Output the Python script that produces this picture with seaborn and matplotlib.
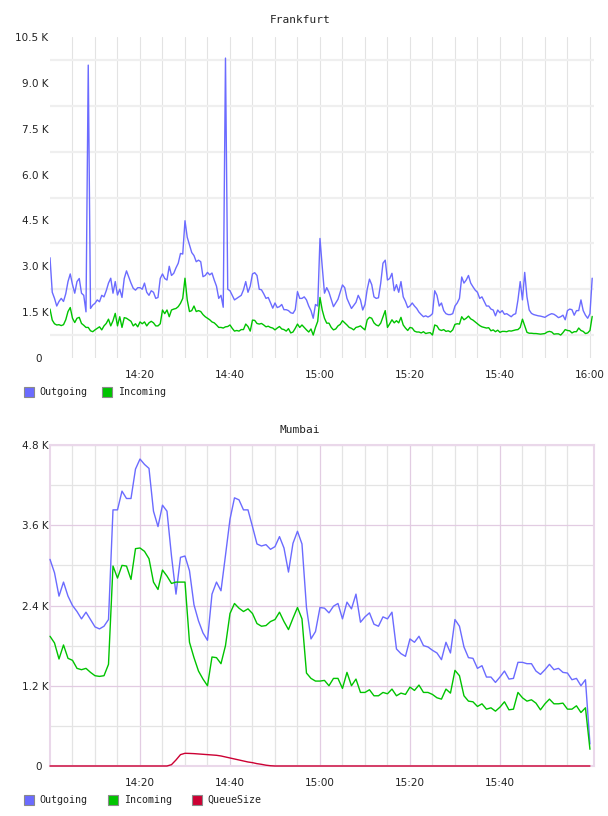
import numpy as np
import pandas as pd
import matplotlib
matplotlib.use("Agg")
import matplotlib.pyplot as plt
from matplotlib.patches import Rectangle
import seaborn as sns

# ---------------- data ----------------
start_label = "14:00"
top_title = "Frankfurt"
bottom_title = "Mumbai"
top_series = ["Outgoing", "Incoming"]
bottom_series = ["Outgoing", "Incoming", "QueueSize"]
colors = {"Outgoing": "#6b6bff", "Incoming": "#00c400", "QueueSize": "#cc0033"}

top_xlabels = ["14:20", "14:40", "15:00", "15:20", "15:40", "16:00"]
bottom_xlabels = ["14:20", "14:40", "15:00", "15:20", "15:40"]
top_yticks = [0, 1.5, 3.0, 4.5, 6.0, 7.5, 9.0, 10.5]
bottom_yticks = [0, 1.2, 2.4, 3.6, 4.8]

# Frankfurt, samples every 30 s from 14:00 (values in K)
fra_out = [
    3.28, 2.15, 1.95, 1.70, 1.85, 1.95, 1.85, 2.10, 2.50, 2.75, 2.40, 2.12, 2.50, 2.60, 2.12, 2.05, 1.51, 9.58, 1.62, 1.73,
    1.79, 1.90, 1.84, 2.05, 2.00, 2.20, 2.45, 2.61, 2.12, 2.50, 2.06, 2.25, 1.98, 2.60, 2.85, 2.65, 2.45, 2.28, 2.22, 2.30,
    2.30, 2.25, 2.45, 2.15, 2.05, 2.20, 2.15, 1.95, 1.98, 2.60, 2.75, 2.60, 2.55, 3.00, 2.70, 2.77, 2.95, 3.10, 3.42, 3.40,
    4.49, 3.95, 3.70, 3.45, 3.35, 3.15, 3.20, 3.15, 2.66, 2.70, 2.80, 2.72, 2.78, 2.55, 2.35, 1.95, 2.05, 1.66, 9.81, 2.25,
    2.20, 2.05, 1.90, 1.95, 2.00, 2.05, 2.23, 2.50, 2.15, 2.35, 2.75, 2.79, 2.70, 2.25, 2.23, 2.10, 1.95, 1.98, 1.81, 1.63,
    1.80, 1.65, 1.68, 1.75, 1.58, 1.58, 1.55, 1.48, 1.46, 1.58, 2.17, 1.95, 1.95, 2.00, 1.90, 1.70, 1.55, 1.30, 1.75, 1.70,
    3.91, 2.99, 2.12, 2.30, 2.15, 1.92, 1.68, 1.80, 1.92, 2.15, 2.39, 2.30, 1.95, 1.78, 1.62, 1.72, 1.82, 2.05, 1.90, 1.57,
    1.75, 2.25, 2.58, 2.40, 2.00, 1.95, 1.97, 2.45, 3.10, 3.20, 2.55, 2.60, 2.77, 2.20, 2.40, 2.15, 2.50, 2.00, 1.85, 1.65,
    1.70, 1.80, 1.70, 1.62, 1.50, 1.42, 1.35, 1.38, 1.34, 1.38, 1.45, 2.20, 2.05, 1.70, 1.80, 1.55, 1.45, 1.42, 1.42, 1.45,
    1.70, 1.80, 1.95, 2.65, 2.45, 2.55, 2.70, 2.45, 2.33, 2.22, 2.15, 1.95, 2.00, 1.85, 1.70, 1.70, 1.60, 1.57, 1.38, 1.57,
    1.48, 1.55, 1.43, 1.45, 1.40, 1.35, 1.42, 1.45, 1.90, 2.50, 1.90, 2.80, 2.00, 1.57, 1.46, 1.42, 1.40, 1.38, 1.37, 1.35,
    1.33, 1.38, 1.42, 1.45, 1.43, 1.38, 1.32, 1.35, 1.40, 1.25, 1.55, 1.60, 1.58, 1.40, 1.55, 1.55, 1.90, 1.55, 1.40, 1.30,
    1.45, 2.61,
]
fra_in = [
    1.60, 1.24, 1.12, 1.08, 1.09, 1.06, 1.09, 1.25, 1.52, 1.65, 1.30, 1.16, 1.30, 1.33, 1.13, 1.07, 1.00, 1.00, 0.89, 0.86,
    0.92, 0.97, 1.02, 0.92, 1.05, 1.13, 1.27, 1.05, 1.22, 1.46, 1.05, 1.35, 1.00, 1.32, 1.30, 1.25, 1.20, 1.05, 1.12, 1.02,
    1.18, 1.12, 1.18, 1.05, 1.15, 1.20, 1.15, 1.05, 1.05, 1.12, 1.57, 1.45, 1.57, 1.35, 1.57, 1.60, 1.62, 1.68, 1.79, 1.95,
    2.61, 1.90, 1.52, 1.55, 1.70, 1.52, 1.55, 1.52, 1.42, 1.35, 1.30, 1.25, 1.18, 1.15, 1.08, 1.00, 1.00, 0.98, 1.02, 1.03,
    1.08, 0.97, 0.88, 0.90, 0.88, 0.93, 0.93, 1.11, 1.03, 0.88, 1.24, 1.23, 1.13, 1.11, 1.13, 1.08, 1.02, 1.04, 1.00, 0.98,
    0.92, 0.98, 1.03, 0.95, 0.93, 0.88, 0.96, 0.82, 0.85, 0.97, 1.11, 1.00, 1.08, 1.00, 0.92, 0.85, 0.95, 0.75, 1.00, 1.20,
    1.98, 1.57, 1.30, 1.14, 1.14, 1.00, 0.92, 0.95, 1.05, 1.10, 1.22, 1.15, 1.08, 1.00, 0.97, 0.92, 1.00, 1.02, 1.05, 0.98,
    0.92, 1.25, 1.33, 1.30, 1.15, 1.08, 1.05, 1.14, 1.35, 1.55, 1.00, 1.12, 1.25, 1.15, 1.22, 1.15, 1.33, 1.08, 0.98, 0.90,
    1.00, 0.98, 0.88, 0.85, 0.85, 0.82, 0.86, 0.80, 0.82, 0.83, 0.75, 1.08, 1.05, 0.93, 0.90, 0.93, 0.87, 0.89, 0.85, 0.92,
    1.10, 1.12, 1.11, 1.35, 1.25, 1.30, 1.37, 1.28, 1.24, 1.18, 1.12, 1.06, 1.02, 1.00, 0.98, 0.99, 0.89, 0.92, 0.86, 0.91,
    0.84, 0.87, 0.87, 0.86, 0.89, 0.88, 0.90, 0.92, 0.93, 1.00, 1.27, 1.05, 0.84, 0.81, 0.81, 0.80, 0.80, 0.79, 0.78, 0.79,
    0.80, 0.85, 0.87, 0.85, 0.78, 0.79, 0.79, 0.75, 0.83, 0.93, 0.90, 0.89, 0.82, 0.86, 0.86, 0.98, 0.90, 0.87, 0.80, 0.82,
    0.90, 1.36,
]

# Mumbai, samples every minute from 14:00 (values in K)
mum_out = [
    3.09, 2.89, 2.54, 2.75, 2.54, 2.40, 2.31, 2.20, 2.30, 2.19,
    2.08, 2.05, 2.09, 2.19, 3.83, 3.83, 4.11, 4.00, 4.00, 4.44,
    4.59, 4.51, 4.45, 3.81, 3.58, 3.90, 3.81, 3.14, 2.57, 3.12,
    3.14, 2.92, 2.41, 2.17, 1.99, 1.88, 2.57, 2.75, 2.62, 3.15,
    3.69, 4.01, 3.98, 3.83, 3.83, 3.58, 3.32, 3.29, 3.31, 3.24,
    3.28, 3.43, 3.26, 2.90, 3.33, 3.51, 3.32, 2.37, 1.90, 2.01,
    2.37, 2.36, 2.29, 2.39, 2.43, 2.20, 2.45, 2.35, 2.57, 2.15,
    2.23, 2.29, 2.12, 2.09, 2.23, 2.20, 2.30, 1.75, 1.68, 1.64,
    1.90, 1.85, 1.94, 1.80, 1.78, 1.73, 1.69, 1.59, 1.85, 1.69,
    2.19, 2.09, 1.78, 1.62, 1.61, 1.46, 1.50, 1.33, 1.33, 1.25,
    1.33, 1.42, 1.30, 1.31, 1.55, 1.55, 1.53, 1.53, 1.42, 1.37,
    1.44, 1.52, 1.44, 1.46, 1.40, 1.39, 1.29, 1.31, 1.20, 1.29,
    0.33,
]
mum_in = [
    1.94, 1.84, 1.60, 1.81, 1.61, 1.58, 1.46, 1.44, 1.46, 1.40,
    1.35, 1.34, 1.35, 1.52, 2.99, 2.81, 3.00, 2.99, 2.79, 3.25,
    3.26, 3.21, 3.10, 2.75, 2.64, 2.93, 2.84, 2.73, 2.75, 2.75,
    2.75, 1.85, 1.62, 1.42, 1.30, 1.20, 1.63, 1.62, 1.53, 1.80,
    2.28, 2.43, 2.36, 2.31, 2.35, 2.28, 2.13, 2.09, 2.10, 2.16,
    2.19, 2.30, 2.16, 2.04, 2.21, 2.37, 2.20, 1.39, 1.31, 1.27,
    1.27, 1.28, 1.20, 1.31, 1.31, 1.16, 1.40, 1.20, 1.30, 1.10,
    1.10, 1.14, 1.05, 1.05, 1.10, 1.08, 1.15, 1.05, 1.09, 1.07,
    1.18, 1.13, 1.21, 1.10, 1.10, 1.07, 1.02, 1.00, 1.15, 1.09,
    1.43, 1.35, 1.05, 0.97, 0.96, 0.89, 0.93, 0.85, 0.87, 0.82,
    0.88, 0.96, 0.84, 0.85, 1.10, 1.02, 0.97, 0.99, 0.94, 0.84,
    0.93, 1.00, 0.93, 0.93, 0.94, 0.85, 0.85, 0.90, 0.80, 0.87,
    0.25,
]
mum_queue = [
    0, 0, 0, 0, 0, 0, 0, 0, 0, 0,
    0, 0, 0, 0, 0, 0, 0, 0, 0, 0,
    0, 0, 0, 0, 0, 0, 0, 0.02, 0.09, 0.17,
    0.19, 0.188, 0.185, 0.18, 0.175, 0.17, 0.165, 0.16, 0.15, 0.135,
    0.12, 0.105, 0.09, 0.075, 0.06, 0.05, 0.035, 0.025, 0.012, 0.004,
] + [0] * 71

# ---------------- helpers ----------------
def to_min(lbl):
    h, m = lbl.split(":")
    h0, m0 = start_label.split(":")
    return (int(h) * 60 + int(m)) - (int(h0) * 60 + int(m0))

def ylab(v):
    return "0  " if v == 0 else f"{v:.1f} K"

t_top = np.arange(len(fra_out)) * 0.5
t_bot = np.arange(len(mum_out)) * 1.0

df_top = pd.DataFrame({
    "t": np.concatenate([t_top, t_top]),
    "v": fra_out + fra_in,
    "series": ["Outgoing"] * len(fra_out) + ["Incoming"] * len(fra_in),
})
df_bot = pd.DataFrame({
    "t": np.concatenate([t_bot, t_bot, t_bot]),
    "v": mum_out + mum_in + mum_queue,
    "series": ["Outgoing"] * len(mum_out) + ["Incoming"] * len(mum_in) + ["QueueSize"] * len(mum_queue),
})

# ---------------- figure ----------------
sns.set_style("white")
plt.rcParams["font.family"] = ["DejaVu Sans"]

W, H = 608, 816
fig = plt.figure(figsize=(W / 100, H / 100), dpi=100)

def px_axes(left, top, right, bottom):
    return fig.add_axes([left / W, 1 - bottom / H, (right - left) / W, (bottom - top) / H])

XMAX = 120.9
tick_fs = 7.5
mono = "DejaVu Sans Mono"

# ---- top chart ----
ax1 = px_axes(50, 37, 594, 358)
sns.lineplot(data=df_top, x="t", y="v", hue="series", hue_order=top_series,
             palette=colors, linewidth=1.0, legend=False, ax=ax1, estimator=None)
ax1.set_xlim(0, XMAX)
ax1.set_ylim(0, 10.5)
ax1.set_xticks([to_min(l) for l in top_xlabels])
ax1.set_xticklabels(top_xlabels)
ax1.set_xticks(np.arange(5, 121, 5), minor=True)
ax1.set_yticks(top_yticks)
ax1.set_yticklabels([ylab(v) for v in top_yticks])
ax1.set_yticks(np.arange(0.75, 10.5, 1.5), minor=True)
ax1.tick_params(which="both", length=0, labelsize=tick_fs, colors="#222222")
ax1.tick_params(axis="x", pad=9)
ax1.tick_params(axis="y", pad=1)
ax1.grid(False)
ax1.xaxis.grid(True, which="both", color="#e3e3e3", lw=0.8)
ax1.yaxis.grid(True, which="minor", color="#efefef", lw=1.6)
ax1.set_axisbelow(True)
for s in ax1.spines.values():
    s.set_visible(False)
ax1.set_xlabel("")
ax1.set_ylabel("")

# ---- bottom chart ----
ax2 = px_axes(50, 445, 594, 766)
sns.lineplot(data=df_bot, x="t", y="v", hue="series", hue_order=bottom_series,
             palette=colors, linewidth=1.0, legend=False, ax=ax2, estimator=None)
for ln in ax2.lines:
    ln.set_clip_on(False)
    ln.set_zorder(3)
ax2.set_xlim(0, XMAX)
ax2.set_ylim(0, 4.8)
ax2.set_xticks([to_min(l) for l in bottom_xlabels])
ax2.set_xticklabels(bottom_xlabels)
ax2.set_xticks(np.arange(5, 120, 5), minor=True)
ax2.set_yticks(bottom_yticks)
ax2.set_yticklabels([ylab(v) for v in bottom_yticks])
ax2.set_yticks(np.arange(0.6, 4.8, 1.2), minor=True)
ax2.tick_params(which="both", length=0, labelsize=tick_fs, colors="#222222")
ax2.tick_params(axis="x", pad=9)
ax2.tick_params(axis="y", pad=1)
ax2.grid(False)
ax2.grid(True, which="major", color="#e2cce2", lw=0.9)
ax2.grid(True, which="minor", color="#e4e4e4", lw=0.9)
ax2.set_axisbelow(True)
for s in ax2.spines.values():
    s.set_visible(True)
    s.set_color("#ead8ea")
    s.set_linewidth(1.5)
ax2.set_xlabel("")
ax2.set_ylabel("")

# ---- titles ----
fig.text(300 / W, 1 - 20 / H, top_title, ha="center", va="center", fontsize=8, family=mono, color="#222222")
fig.text(300 / W, 1 - 430 / H, bottom_title, ha="center", va="center", fontsize=8, family=mono, color="#222222")

# ---- legends ----
def legend_row(y_center, items):
    for name, sx, tx in items:
        fig.patches.append(Rectangle((sx / W, 1 - (y_center + 5) / H), 10 / W, 10 / H,
                                     transform=fig.transFigure, facecolor=colors[name],
                                     edgecolor="#8a8a8a", linewidth=0.8))
        fig.text(tx / W, 1 - y_center / H, name, ha="left", va="center",
                 fontsize=7.2, family=mono, color="#222222")

legend_row(392, [("Outgoing", 24, 39), ("Incoming", 102, 118)])
legend_row(800, [("Outgoing", 24, 39), ("Incoming", 108, 124), ("QueueSize", 192, 207)])

fig.savefig("out.png", dpi=100)
